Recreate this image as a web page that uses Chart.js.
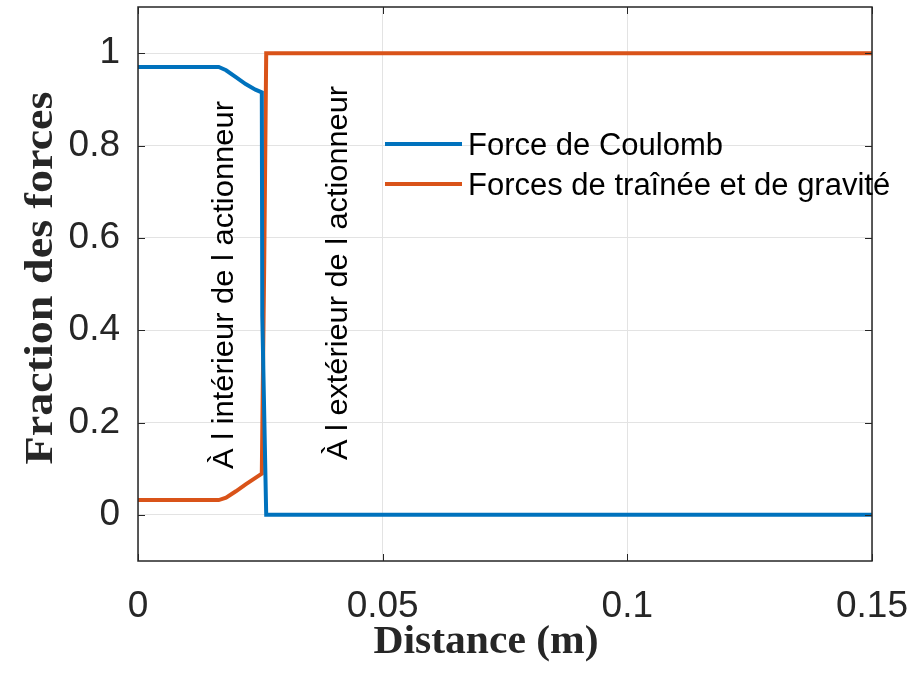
<!DOCTYPE html>
<html>
<head>
<meta charset="utf-8">
<script src="https://cdn.jsdelivr.net/npm/chart.js@4.4.0/dist/chart.umd.min.js"></script>
<style>
  html, body { margin: 0; padding: 0; background: #fff; }
</style>
</head>
<body>
<canvas id="forceChart" width="916" height="681"></canvas>
<script>
// Fraction des forces le long de l'actionneur
const coulombX = [0, 0.0165, 0.018, 0.020, 0.022, 0.024, 0.0253, 0.0254, 0.0262, 0.15];
const coulombY = [0.970, 0.970, 0.963, 0.948, 0.933, 0.921, 0.915, 0.43, 0, 0];
const dragX = [0, 0.0165, 0.018, 0.020, 0.022, 0.024, 0.0253, 0.0258, 0.0262, 0.15];
const dragY = [0.032, 0.032, 0.037, 0.051, 0.066, 0.080, 0.089, 0.55, 1, 1];

const xTicks = [0, 0.05, 0.1, 0.15];
const xTickLabels = ["0", "0.05", "0.1", "0.15"];
const yTicks = [0, 0.2, 0.4, 0.6, 0.8, 1];
const yTickLabels = ["0", "0.2", "0.4", "0.6", "0.8", "1"];

const seriesNames = ["Force de Coulomb", "Forces de traînée et de gravité"];
const seriesColors = ["#0072BD", "#D95319"];
const regionNames = ["À l intérieur de l actionneur", "À l extérieur de l actionneur"];
const xTitle = "Distance (m)";
const yTitle = "Fraction des forces";

const AXIS = "#262626";
const SANS = "'Liberation Sans', Arial, sans-serif";
const SERIF = "'Liberation Serif', 'Times New Roman', serif";

// texte étiré à une longueur donnée (comme dans la figure MATLAB)
function fitText(ctx, text, x, y, width, rot) {
  ctx.save();
  ctx.translate(x, y);
  ctx.rotate(rot);
  const w = ctx.measureText(text).width;
  ctx.scale(width / w, 1);
  ctx.fillText(text, 0, 0);
  ctx.restore();
}

const decorations = {
  id: "decorations",
  afterDatasetsDraw(chart) {
    const ctx = chart.ctx;
    const xs = chart.scales.x, ys = chart.scales.y;
    const a = chart.chartArea;

    // cadre + graduations vers l'intérieur
    ctx.save();
    ctx.strokeStyle = AXIS;
    ctx.lineWidth = 1.5;
    ctx.strokeRect(a.left, a.top, a.right - a.left, a.bottom - a.top);
    ctx.lineWidth = 1;
    xTicks.forEach(v => {
      const px = Math.round(xs.getPixelForValue(v)) + 0.5;
      ctx.beginPath();
      ctx.moveTo(px, a.bottom); ctx.lineTo(px, a.bottom - 7);
      ctx.moveTo(px, a.top); ctx.lineTo(px, a.top + 7);
      ctx.stroke();
    });
    yTicks.forEach(v => {
      const py = Math.round(ys.getPixelForValue(v)) + 0.5;
      ctx.beginPath();
      ctx.moveTo(a.left, py); ctx.lineTo(a.left + 7, py);
      ctx.moveTo(a.right, py); ctx.lineTo(a.right - 7, py);
      ctx.stroke();
    });

    // textes verticaux des deux zones
    ctx.fillStyle = "#000";
    ctx.font = "29px " + SANS;
    ctx.textAlign = "center";
    ctx.textBaseline = "alphabetic";
    fitText(ctx, regionNames[0], 233, 285, 368, -Math.PI / 2);
    fitText(ctx, regionNames[1], 347, 273, 374, -Math.PI / 2);

    // légende sans cadre
    ctx.textAlign = "left";
    ctx.font = "31px " + SANS;
    chart.data.datasets.forEach((ds, i) => {
      const y = 144 + i * 40;
      ctx.strokeStyle = ds.borderColor;
      ctx.lineWidth = 4;
      ctx.beginPath();
      ctx.moveTo(385, y); ctx.lineTo(462, y);
      ctx.stroke();
      ctx.fillStyle = "#000";
      ctx.fillText(ds.label, 468, y + 11);
    });

    // titres des axes
    ctx.fillStyle = AXIS;
    ctx.font = "bold 41px " + SERIF;
    ctx.textAlign = "center";
    fitText(ctx, xTitle, 486, 653, 225, 0);
    fitText(ctx, yTitle, 52, 278, 373, -Math.PI / 2);
    ctx.restore();
  }
};

new Chart(document.getElementById("forceChart").getContext("2d"), {
  type: "line",
  data: {
    datasets: [
      {
        label: seriesNames[0],
        data: coulombX.map((x, i) => ({ x: x, y: coulombY[i] })),
        borderColor: seriesColors[0],
        borderWidth: 4,
        pointRadius: 0,
        tension: 0,
        fill: false
      },
      {
        label: seriesNames[1],
        data: dragX.map((x, i) => ({ x: x, y: dragY[i] })),
        borderColor: seriesColors[1],
        borderWidth: 4,
        pointRadius: 0,
        tension: 0,
        fill: false
      }
    ]
  },
  options: {
    responsive: false,
    devicePixelRatio: 1,
    animation: false,
    layout: { padding: { left: 0, right: 44, top: 7, bottom: 0 } },
    scales: {
      x: {
        type: "linear",
        min: 0,
        max: 0.15,
        afterBuildTicks: s => { s.ticks = xTicks.map(v => ({ value: v })); },
        afterFit: s => { s.height = 120; s.paddingLeft = 0; s.paddingRight = 0; },
        ticks: {
          color: AXIS,
          font: { family: SANS, size: 37 },
          padding: 24,
          maxRotation: 0,
          callback: v => xTickLabels[xTicks.indexOf(v)]
        },
        grid: { color: "#e3e3e3", lineWidth: 1, drawTicks: false },
        border: { display: false }
      },
      y: {
        type: "linear",
        min: -0.1,
        max: 1.1,
        afterBuildTicks: s => { s.ticks = yTicks.map(v => ({ value: v })); },
        afterFit: s => { s.width = 138; s.paddingTop = 0; s.paddingBottom = 0; },
        ticks: {
          color: AXIS,
          font: { family: SANS, size: 37 },
          padding: 18,
          callback: v => yTickLabels[yTicks.indexOf(v)]
        },
        grid: { color: "#e3e3e3", lineWidth: 1, drawTicks: false },
        border: { display: false }
      }
    },
    plugins: {
      legend: { display: false },
      tooltip: { enabled: false }
    }
  },
  plugins: [decorations]
});
</script>
</body>
</html>
